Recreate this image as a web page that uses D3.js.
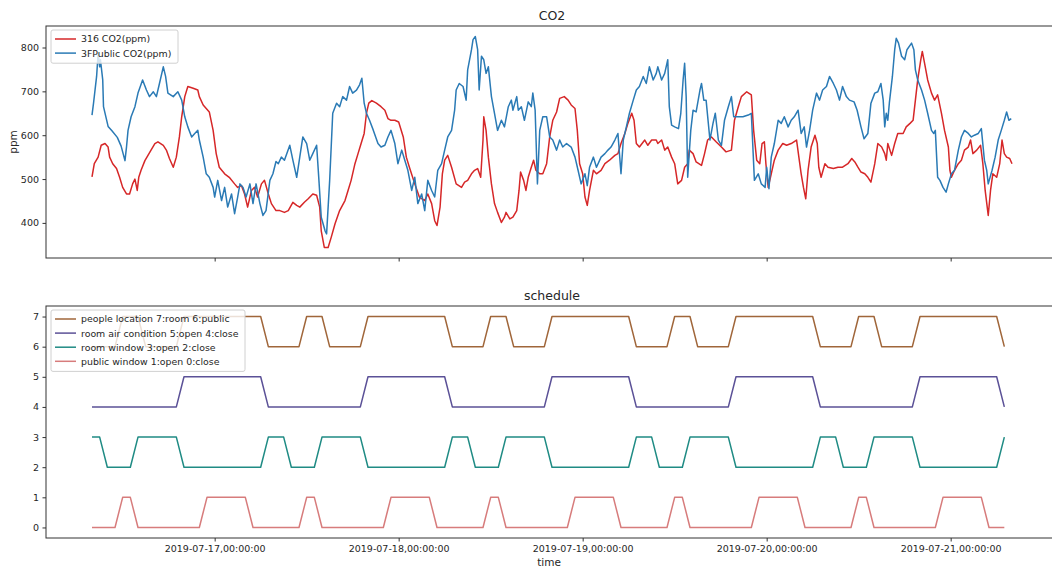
<!DOCTYPE html>
<html>
<head>
<meta charset="utf-8">
<script src="https://cdn.jsdelivr.net/npm/d3@7"></script>
<style>
body { margin: 0; background: #fff; }
text { font-family: "DejaVu Sans", sans-serif; fill: #262626; }
</style>
</head>
<body>
<svg id="chart" width="1052" height="568"></svg>
<script>
// all times are hours after 2019-07-16 08:00
var startTime = new Date(2019, 6, 16, 8, 0, 0);

// [hour, ppm]
var room316 = [[0,505],[0.3,535],[0.8,550],[1.2,577],[1.7,581],[2.1,573],[2.3,550],[2.7,535],[3.2,524],[3.6,504],[4,481],[4.5,466],[4.9,466],[5.3,489],[5.6,500],[5.9,474],[6.1,504],[6.4,520],[6.9,542],[7.3,554],[7.7,566],[8.2,581],[8.6,585],[9.3,577],[9.7,566],[10.1,547],[10.6,527],[11,550],[11.4,596],[11.7,642],[12.1,688],[12.5,711],[13.2,707],[13.8,703],[14,688],[14.5,669],[14.9,661],[15.3,653],[15.8,611],[16.2,558],[16.6,527],[17.3,512],[17.9,504],[18.6,489],[19,481],[19.5,485],[19.9,466],[20.3,436],[20.8,474],[21.2,481],[21.6,459],[22.1,489],[22.5,497],[23,466],[23.4,444],[24,428],[24.5,428],[25.1,424],[25.6,428],[26.2,447],[26.7,440],[27.1,436],[27.7,447],[28.2,455],[28.8,466],[29.3,463],[29.7,436],[29.9,382],[30.3,344],[30.8,344],[31.2,367],[31.7,398],[32.3,428],[33,451],[33.4,474],[33.8,497],[34.3,535],[34.7,558],[35.1,581],[35.5,604],[35.8,650],[36.1,673],[36.5,679],[37.1,673],[37.7,665],[38.2,657],[38.6,638],[39,634],[39.5,634],[40,630],[40.6,596],[41,550],[41.4,527],[42.1,489],[42.7,459],[43.4,451],[43.8,466],[44.3,444],[44.7,405],[45,394],[45.4,436],[45.7,512],[46,543],[46.4,554],[46.9,527],[47.5,489],[48.2,481],[48.6,493],[49,497],[49.5,512],[49.9,520],[50.3,524],[50.7,504],[51,589],[51.1,642],[51.4,611],[51.7,550],[52.1,489],[52.5,444],[52.9,424],[53.4,401],[53.8,413],[54,424],[54.5,409],[54.9,413],[55.4,428],[55.7,474],[55.9,516],[56.3,497],[56.6,474],[56.9,504],[57.3,527],[57.6,543],[57.9,520],[58.4,512],[58.8,512],[59.3,535],[59.7,596],[60.1,634],[60.6,653],[61,684],[61.6,688],[62.1,680],[62.5,669],[63,661],[63.3,611],[63.6,535],[64,512],[64.3,459],[64.6,440],[64.9,474],[65.4,520],[65.8,512],[66.4,520],[66.9,535],[67.5,543],[68.2,554],[68.6,558],[69,581],[69.5,604],[69.9,627],[70.4,650],[70.7,634],[71,581],[71.4,573],[72.1,589],[72.5,577],[73,589],[73.6,589],[73.8,581],[74.3,589],[74.7,566],[75.1,573],[75.6,550],[76,535],[76.4,489],[76.9,497],[77.3,527],[77.7,535],[77.9,566],[78.4,558],[78.8,539],[79.5,531],[79.9,558],[80.3,589],[80.8,596],[81.4,585],[82.1,573],[82.7,562],[83.4,566],[83.8,634],[84.3,665],[84.7,688],[85.4,699],[86,692],[86.3,611],[86.7,543],[87.1,535],[87.4,581],[87.7,585],[87.9,535],[88.2,481],[88.6,512],[89,543],[89.5,566],[90.1,581],[90.6,577],[91.2,581],[91.9,589],[92.2,550],[92.5,512],[92.8,481],[93.1,455],[93.4,520],[93.8,573],[94.3,600],[94.6,581],[94.8,527],[95.1,504],[95.6,535],[96,527],[96.7,524],[97.3,527],[97.9,527],[98.6,535],[99.1,547],[99.5,539],[99.9,527],[100.3,516],[100.8,512],[101.2,504],[101.6,493],[102.1,535],[102.5,581],[103,573],[103.4,558],[103.6,543],[103.8,581],[104.3,554],[104.7,581],[105.1,604],[105.8,604],[106.2,619],[106.7,627],[107.1,634],[107.4,680],[107.7,726],[108.1,772],[108.3,791],[108.6,764],[109,726],[109.5,696],[109.9,680],[110.3,692],[110.8,650],[111.2,611],[111.7,573],[111.9,520],[112.1,504],[112.5,520],[113,535],[113.4,543],[113.8,566],[114.3,573],[114.6,589],[114.9,558],[115.4,566],[115.9,577],[116.2,535],[116.5,474],[116.9,417],[117.2,474],[117.5,512],[118,504],[118.4,535],[118.7,589],[119,558],[119.3,550],[119.7,547],[120,535]];

var public3F = [[0,646],[0.2,673],[0.6,734],[0.8,787],[1,756],[1.1,772],[1.4,726],[1.5,665],[2.1,620],[2.6,610],[3.3,595],[3.8,575],[4.3,542],[4.5,573],[4.7,611],[5.1,642],[5.6,665],[6,696],[6.6,726],[7.1,703],[7.5,688],[8,699],[8.4,688],[8.8,718],[9.3,756],[9.6,734],[9.9,696],[10.6,688],[11.2,699],[11.7,680],[12.1,642],[12.5,619],[13,596],[13.4,604],[13.8,611],[14,589],[14.5,550],[14.9,512],[15.3,504],[15.8,481],[16,459],[16.4,497],[16.9,451],[17.3,481],[17.7,436],[18.2,466],[18.6,421],[19,459],[19.3,489],[19.7,481],[20.1,459],[20.6,489],[21,444],[21.4,489],[21.9,444],[22.3,417],[22.7,428],[23.2,497],[23.6,512],[24,540],[24.3,535],[24.7,550],[25.1,543],[25.8,577],[26.2,543],[26.7,504],[27.1,550],[27.5,596],[28,581],[28.4,543],[28.8,558],[29.3,577],[29.6,497],[29.9,413],[30.4,382],[30.6,375],[31,497],[31.4,650],[31.9,673],[32.3,665],[32.7,688],[33.2,680],[33.6,711],[34,696],[34.5,703],[34.9,715],[35.2,730],[35.5,673],[35.8,650],[36.2,634],[36.7,611],[37.3,581],[37.7,573],[38.2,577],[38.6,596],[39,611],[39.5,581],[39.9,535],[40.4,566],[40.8,543],[41.2,520],[41.7,474],[42.1,504],[42.5,444],[43,466],[43.4,428],[43.8,497],[44.3,474],[44.7,459],[45.1,520],[45.6,535],[46,566],[46.4,596],[46.9,611],[47.3,657],[47.5,703],[47.9,718],[48.4,711],[48.8,680],[49,749],[49.5,795],[49.7,818],[50,825],[50.3,795],[50.5,703],[50.8,780],[51.1,772],[51.4,741],[51.7,756],[52.1,688],[52.5,650],[52.9,611],[53.4,634],[53.8,619],[54.3,665],[54.7,680],[54.9,657],[55.4,688],[55.6,657],[56,665],[56.4,634],[56.9,676],[57.3,665],[57.5,696],[57.8,657],[58.1,489],[58.4,611],[58.8,642],[59.3,642],[59.7,596],[60.1,589],[60.6,566],[61,589],[61.4,573],[61.9,581],[62.5,573],[63,550],[63.4,520],[63.8,489],[64.3,512],[64.6,485],[64.9,527],[65.4,550],[65.8,527],[66.4,550],[66.9,558],[67.3,566],[67.7,573],[68.2,589],[68.6,604],[69,512],[69.3,589],[69.7,619],[70.1,650],[70.6,680],[71,703],[71.4,711],[71.9,734],[72.3,718],[72.7,756],[73.2,726],[73.6,741],[73.8,756],[74.3,726],[74.7,741],[75.1,772],[75.3,665],[75.6,623],[76,619],[76.5,615],[76.8,650],[77.1,726],[77.3,764],[77.5,688],[77.7,504],[78.1,611],[78.4,657],[78.8,653],[79.3,703],[79.5,718],[79.8,680],[80.1,680],[80.6,589],[81,627],[81.3,650],[81.7,589],[82.1,577],[82.5,634],[83,665],[83.4,688],[83.7,642],[84.3,642],[84.9,642],[85.6,646],[86,650],[86.2,573],[86.4,497],[86.9,512],[87.3,489],[87.8,481],[88,527],[88.3,478],[88.6,550],[89,581],[89.5,634],[89.9,627],[90.3,642],[90.8,619],[91.2,634],[91.6,642],[92.1,657],[92.5,604],[92.9,619],[93.2,573],[93.6,611],[94,657],[94.5,696],[94.9,680],[95.3,703],[95.8,711],[96.2,734],[96.7,718],[97.1,703],[97.5,680],[97.9,711],[98.4,688],[98.8,680],[99.4,676],[99.8,657],[100.3,619],[100.7,592],[101.2,604],[101.6,673],[102.1,696],[102.5,699],[102.9,718],[103.2,680],[103.4,619],[103.6,650],[103.8,634],[104,673],[104.4,734],[104.7,795],[104.9,821],[105.2,810],[105.6,780],[106,772],[106.3,795],[106.9,810],[107.2,795],[107.4,749],[107.7,726],[108.2,703],[108.6,680],[109,650],[109.5,611],[109.8,604],[110,611],[110.3,504],[110.6,497],[111,481],[111.4,470],[111.7,489],[112.1,512],[112.5,520],[113,566],[113.4,596],[113.8,611],[114.3,604],[114.7,596],[115.1,600],[115.6,604],[116,615],[116.4,543],[116.7,520],[116.9,489],[117.4,520],[117.8,550],[118.2,589],[118.6,611],[119,634],[119.3,653],[119.6,634],[119.9,638]];

// schedule corner points [hour, state]
var peopleLocation = [[0,6],[3,6],[4,7],[6,7],[7,6],[11,6],[12,7],[22,7],[23,6],[27,6],[28,7],[30,7],[31,6],[35,6],[36,7],[46,7],[47,6],[51,6],[52,7],[54,7],[55,6],[59,6],[60,7],[70,7],[71,6],[75,6],[76,7],[78,7],[79,6],[83,6],[84,7],[94,7],[95,6],[99,6],[100,7],[102,7],[103,6],[107,6],[108,7],[118,7],[119,6]];
var roomAirCondition = [[0,4],[11,4],[12,5],[22,5],[23,4],[35,4],[36,5],[46,5],[47,4],[59,4],[60,5],[70,5],[71,4],[83,4],[84,5],[94,5],[95,4],[107,4],[108,5],[118,5],[119,4]];
var roomWindow = [[0,3],[1,3],[2,2],[5,2],[6,3],[11,3],[12,2],[22,2],[23,3],[25,3],[26,2],[29,2],[30,3],[35,3],[36,2],[46,2],[47,3],[49,3],[50,2],[53,2],[54,3],[59,3],[60,2],[70,2],[71,3],[73,3],[74,2],[77,2],[78,3],[83,3],[84,2],[94,2],[95,3],[97,3],[98,2],[101,2],[102,3],[107,3],[108,2],[118,2],[119,3]];
var publicWindow = [[0,0],[3,0],[4,1],[5,1],[6,0],[14,0],[15,1],[20,1],[21,0],[27,0],[28,1],[29,1],[30,0],[38,0],[39,1],[44,1],[45,0],[51,0],[52,1],[53,1],[54,0],[62,0],[63,1],[68,1],[69,0],[75,0],[76,1],[77,1],[78,0],[86,0],[87,1],[92,1],[93,0],[99,0],[100,1],[101,1],[102,0],[110,0],[111,1],[116,1],[117,0],[119,0]];

var co2Names = ["316 CO2(ppm)", "3FPublic CO2(ppm)"];
var scheduleNames = ["people location 7:room 6:public", "room air condition 5:open 4:close", "room window 3:open 2:close", "public window 1:open 0:close"];
var co2Ticks = [400, 500, 600, 700, 800];
var scheduleTicks = [0, 1, 2, 3, 4, 5, 6, 7];
var dayTicks = ["2019-07-17", "2019-07-18", "2019-07-19", "2019-07-20", "2019-07-21"];

var co2Series = [
    {name: co2Names[0], data: room316, color: "#d62728"},
    {name: co2Names[1], data: public3F, color: "#2a7ab5"}
];
var scheduleSeries = [
    {name: scheduleNames[0], data: peopleLocation, color: "#a0663a"},
    {name: scheduleNames[1], data: roomAirCondition, color: "#5b5197"},
    {name: scheduleNames[2], data: roomWindow, color: "#1f8b84"},
    {name: scheduleNames[3], data: publicWindow, color: "#d77c7c"}
];

var svg = d3.select("#chart");
var left = 46, right = 1058;
var top1 = 26, bottom1 = 258;
var top2 = 306, bottom2 = 538;

function toDate(h)
{
    return d3.timeMinute.offset(startTime, Math.round(h * 60));
}

function padded(lo, hi)
{
    var p = (hi - lo) * 0.05;
    return [lo - p, hi + p];
}

var allHours = [];
co2Series.concat(scheduleSeries).forEach(function(s) {
    s.data.forEach(function(d) { allHours.push(d[0]); });
});
var hExt = padded(d3.min(allHours), d3.max(allHours));
var x = d3.scaleTime().domain([toDate(hExt[0]), toDate(hExt[1])]).range([left, right]);

var co2Vals = [];
co2Series.forEach(function(s) { s.data.forEach(function(d) { co2Vals.push(d[1]); }); });
var y1 = d3.scaleLinear().domain(padded(d3.min(co2Vals), d3.max(co2Vals))).range([bottom1, top1]);
var y2 = d3.scaleLinear().domain(padded(0, 7)).range([bottom2, top2]);

var parseDay = d3.timeParse("%Y-%m-%d");
var dayDates = dayTicks.map(function(d) { return parseDay(d); });
var fmt = d3.timeFormat("%Y-%m-%d,%H:%M:%S");

function drawPanel(series, y, yTicks, top, bottom, title, showXLabels)
{
    var g = svg.append("g");

    series.forEach(function(s) {
        var line = d3.line()
            .x(function(d) { return x(toDate(d[0])); })
            .y(function(d) { return y(d[1]); });
        g.append("path")
            .datum(s.data)
            .attr("fill", "none")
            .attr("stroke", s.color)
            .attr("stroke-width", 1.5)
            .attr("stroke-linejoin", "round")
            .attr("d", line);
    });

    // spines
    g.append("rect")
        .attr("x", left).attr("y", top)
        .attr("width", right - left).attr("height", bottom - top)
        .attr("fill", "none").attr("stroke", "#333").attr("stroke-width", 1);

    var ya = g.append("g")
        .attr("transform", "translate(" + left + ",0)")
        .call(d3.axisLeft(y).tickValues(yTicks).tickSize(3.5).tickPadding(3.5));
    ya.select(".domain").remove();

    var xa = g.append("g")
        .attr("transform", "translate(0," + bottom + ")")
        .call(d3.axisBottom(x).tickValues(dayDates).tickSize(3.5).tickPadding(3.5)
            .tickFormat(showXLabels ? fmt : ""));
    xa.select(".domain").remove();

    g.selectAll(".tick line").attr("stroke", "#333");
    g.selectAll(".tick text").style("font-size", "9.5px").attr("fill", "#262626");

    g.append("text")
        .attr("x", (left + right) / 2)
        .attr("y", top - 6)
        .attr("text-anchor", "middle")
        .style("font-size", "12.5px")
        .text(title);

    return g;
}

function drawLegend(series, lx, ly, w)
{
    var rowH = 14.1;
    var g = svg.append("g").attr("transform", "translate(" + lx + "," + ly + ")");
    g.append("rect")
        .attr("width", w).attr("height", series.length * rowH + 5)
        .attr("rx", 2)
        .attr("fill", "#fff").attr("fill-opacity", 0.8)
        .attr("stroke", "#d0d0d0");
    series.forEach(function(s, i) {
        var cy = 9 + i * rowH;
        g.append("line")
            .attr("x1", 4).attr("x2", 25)
            .attr("y1", cy).attr("y2", cy)
            .attr("stroke", s.color).attr("stroke-width", 1.5);
        g.append("text")
            .attr("x", 30).attr("y", cy + 3.4)
            .style("font-size", "9.4px")
            .text(s.name);
    });
}

drawPanel(co2Series, y1, co2Ticks, top1, bottom1, "CO2", false);
drawPanel(scheduleSeries, y2, scheduleTicks, top2, bottom2, "schedule", true);

svg.append("text")
    .attr("transform", "translate(17," + (top1 + bottom1) / 2 + ") rotate(-90)")
    .attr("text-anchor", "middle")
    .style("font-size", "10.5px")
    .text("ppm");

svg.append("text")
    .attr("x", (left + right) / 2 - 3)
    .attr("y", 566)
    .attr("text-anchor", "middle")
    .style("font-size", "10.5px")
    .text("time");

drawLegend(co2Series, 51, 30, 127);
drawLegend(scheduleSeries, 51, 310, 194);
</script>
</body>
</html>
